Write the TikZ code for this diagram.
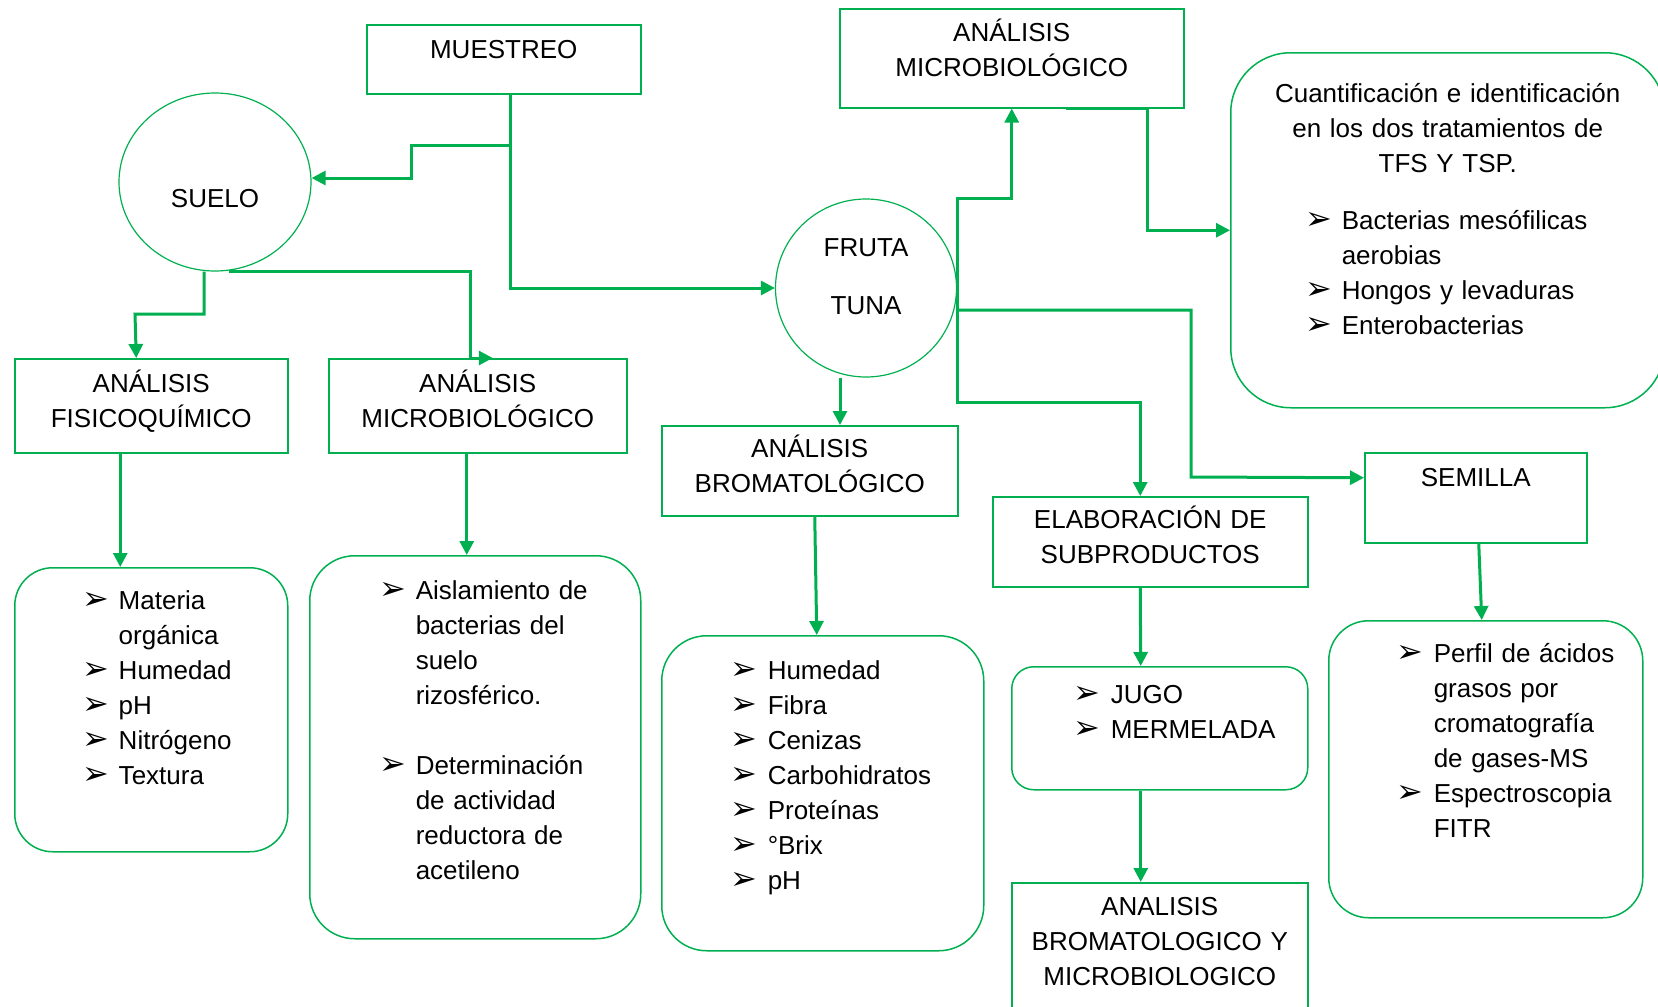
\documentclass[tikz,border=0pt]{standalone}
\usepackage{fontspec}
\setmainfont{Liberation Sans}
\newfontfamily\dejavu{DejaVu Sans}
\usetikzlibrary{arrows.meta, shapes.geometric}
\definecolor{tgreen}{RGB}{0,176,80}
\newcommand{\itemarrow}{{\dejavu\fontsize{32}{35}\selectfont ➢}}

\tikzset{
  box/.style={draw=tgreen, line width=1.5pt, anchor=north west, inner sep=0pt, align=center},
  listbox/.style={box, align=left},
  blob/.style={ellipse, draw=tgreen, line width=1.2pt, inner sep=0pt, align=center, text width=110pt},
  link/.style={draw=tgreen, line width=3pt, -{Triangle[length=14pt,width=14pt]}},
}

\begin{document}
\begin{tikzpicture}[x=1pt, y=-1pt, font=\fontsize{26}{35}\selectfont]
\useasboundingbox (0,0) rectangle (1658,1007);

% sampling and soil
\node[box, text width=274pt, text height=34pt, text depth=35pt] (muestreo) at (366,24) {MUESTREO};
\node[blob, minimum width=192pt, minimum height=178pt, text height=50pt, text depth=0pt] (suelo) at (215,182) {SUELO};
\node[box, text width=273pt, text height=34pt, text depth=60pt] (fisico) at (14,358) {ANÁLISIS\\FISICOQUÍMICO};
\node[box, text width=298pt, text height=34pt, text depth=60pt] (microL) at (328,358) {ANÁLISIS\\MICROBIOLÓGICO};
\node[listbox, rounded corners=38pt, text width=273pt, text height=42pt, text depth=242pt] (materia) at (14,567)
  {\hspace*{68pt}\begin{tabular}[t]{@{}p{36pt}@{}l@{}}
  \itemarrow & Materia\\ & orgánica\\ \itemarrow & Humedad\\ \itemarrow & pH\\ \itemarrow & Nitrógeno\\ \itemarrow & Textura
  \end{tabular}};
\node[listbox, rounded corners=45pt, text width=331pt, text height=44pt, text depth=339pt] (aisl) at (309,555)
  {\hspace*{70pt}\begin{tabular}[t]{@{}p{36pt}@{}l@{}}
  \itemarrow & Aislamiento de\\ & bacterias del\\ & suelo\\ & rizosférico.\\ & \\
  \itemarrow & Determinación\\ & de actividad\\ & reductora de\\ & acetileno
  \end{tabular}};

% fruit
\node[blob, minimum width=181pt, minimum height=178pt, text height=0pt, text depth=64pt] (fruta) at (866,288) {FRUTA\\[23pt]TUNA};
\node[box, text width=344pt, text height=33pt, text depth=66pt] (microT) at (839,8) {ANÁLISIS\\MICROBIOLÓGICO};
\node[listbox, rounded corners=60pt, text width=434pt, text height=50pt, text depth=305pt] (cuant) at (1230,52)
  {{\centering Cuantificación e identificación\\ en los dos tratamientos de\\ TFS Y TSP.\par}
  \vspace{22pt}
  \hspace*{75pt}\begin{tabular}[t]{@{}p{36pt}@{}l@{}}
  \itemarrow & Bacterias mesófilicas\\ & aerobias\\ \itemarrow & Hongos y levaduras\\ \itemarrow & Enterobacterias
  \end{tabular}};
\node[box, text width=296pt, text height=32pt, text depth=58pt] (bromat) at (661,425) {ANÁLISIS\\BROMATOLÓGICO};
\node[listbox, rounded corners=45pt, text width=322pt, text height=44pt, text depth=271pt] (humed) at (661,635)
  {\hspace*{69pt}\begin{tabular}[t]{@{}p{37pt}@{}l@{}}
  \itemarrow & Humedad\\ \itemarrow & Fibra\\ \itemarrow & Cenizas\\ \itemarrow & Carbohidratos\\
  \itemarrow & Proteínas\\ \itemarrow & °Brix\\ \itemarrow & pH
  \end{tabular}};
\node[box, text width=315pt, text height=32pt, text depth=58pt] (elab) at (992,496) {ELABORACIÓN DE\\SUBPRODUCTOS};
\node[listbox, rounded corners=22pt, text width=296pt, text height=37pt, text depth=86pt] (jugo) at (1011,666)
  {\hspace*{62pt}\begin{tabular}[t]{@{}p{37pt}@{}l@{}}
  \itemarrow & JUGO\\ \itemarrow & MERMELADA
  \end{tabular}};
\node[box, text width=296pt, text height=33pt, text depth=140pt] (anal) at (1011,882) {ANALISIS\\BROMATOLOGICO Y\\MICROBIOLOGICO};
\node[box, text width=222pt, text height=34pt, text depth=56pt] (semilla) at (1364,452) {SEMILLA};
\node[listbox, rounded corners=40pt, text width=314pt, text height=42pt, text depth=255pt] (perfil) at (1328,620)
  {\hspace*{68pt}\begin{tabular}[t]{@{}p{37pt}@{}l@{}}
  \itemarrow & Perfil de ácidos\\ & grasos por\\ & cromatografía\\ & de gases-MS\\ \itemarrow & Espectroscopia\\ & FITR
  \end{tabular}};

% connectors
\coordinate (stem) at (510,0);
\draw[link] (stem |- muestreo.south) |- (fruta.west);
\draw[link] (stem |- 0,145) -- (411,145) |- ([yshift=4pt]suelo.east);
\draw[link] ([xshift=-11pt]suelo.south) |- (135,314) -- ([xshift=-15pt]fisico.north);
\draw[link] ([xshift=14pt]suelo.south) -| (470,358) -- ([xshift=15pt]microL.north);
\draw[link] ([xshift=-31pt]fisico.south) -- ([xshift=-31pt]materia.north);
\draw[link] ([xshift=-11pt]microL.south) -- ([xshift=-11pt]microL.south |- aisl.north);
\draw[link] ([xshift=-26pt]fruta.south) -- ([xshift=-26pt]fruta.south |- bromat.north);
\draw[link] (fruta.east) |- ([yshift=-90pt]microT.south) -- (microT.south);
\draw[link] (fruta.east) |- ([xshift=-10pt,yshift=94pt]elab.north) -- ([xshift=-10pt]elab.north);
\draw[link] ([yshift=-22pt]fruta.east) -| (1191,477) -- ([yshift=20pt]semilla.west);
\draw[link] ([xshift=54pt]microT.south) -| ([xshift=-83pt]cuant.west) -- (cuant.west);
\draw[link] ([xshift=5pt]bromat.south) -- ([xshift=-6pt]humed.north);
\draw[link] ([xshift=-10pt]elab.south) -- ([xshift=-19pt]jugo.north);
\draw[link] ([xshift=-19pt]jugo.south) -- ([xshift=-19pt]anal.north);
\draw[link] ([xshift=3pt]semilla.south) -- ([xshift=-4pt]perfil.north);
\end{tikzpicture}
\end{document}
